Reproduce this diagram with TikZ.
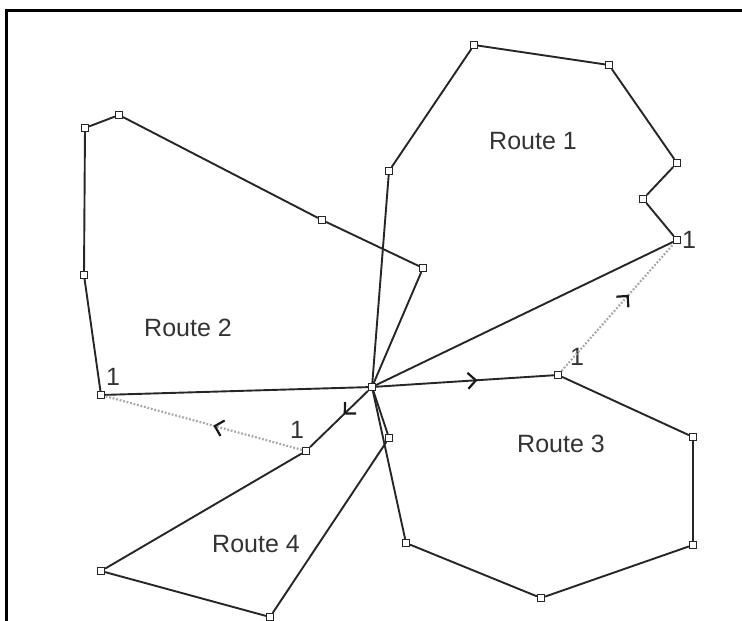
\documentclass[tikz,border=0pt]{standalone}
\usepackage{fontspec}
\setmainfont{Liberation Sans}
\usetikzlibrary{arrows.meta,decorations.markings}
\begin{document}
\begin{tikzpicture}[x=1pt,y=-1pt] % маршруты из депо
\tikzstyle{cust} = [draw=black!85, rectangle, fill=white, minimum size=7pt, inner sep=0pt, line width=1.1pt] % customer node style
\tikzstyle{route} = [draw=black!85, line width=1.9pt] % route edge style
\tikzstyle{link} = [draw=black!35, line width=2.2pt, dash pattern=on 1.8pt off 1.8pt] % dotted link between routes
\tikzstyle{tag} = [font=\fontsize{25}{28}\selectfont, text=black!80, inner sep=0pt]
\tikzset{midarrow/.style={postaction={decorate}, decoration={markings, mark=at position #1 with {\arrow[black!90]{Straight Barb[length=8pt,width=16pt,line width=2.2pt]}}}}}
\useasboundingbox (0,0) rectangle (742,621);
\draw[line width=3pt] (742,10.5) -- (6.5,10.5) -- (6.5,621); % рамка
% депо
\node[cust] (D) at (372,387) {};
% route 1
\node[cust] (a1) at (389,171) {};
\node[cust] (a2) at (474,45) {};
\node[cust] (a3) at (609,65) {};
\node[cust] (a4) at (677,163) {};
\node[cust] (a5) at (643,199) {};
\node[cust] (a6) at (677,240) {};
% route 2
\node[cust] (b1) at (101,395) {};
\node[cust] (b2) at (84,275) {};
\node[cust] (b3) at (85,128) {};
\node[cust] (b4) at (119,115) {};
\node[cust] (b5) at (322,220) {};
\node[cust] (b6) at (423,268) {};
% route 3
\node[cust] (c1) at (558,375) {};
\node[cust] (c2) at (693,437) {};
\node[cust] (c3) at (693,545) {};
\node[cust] (c4) at (541,598) {};
\node[cust] (c5) at (406,543) {};
% route 4
\node[cust] (d1) at (306,451) {};
\node[cust] (d2) at (101,571) {};
\node[cust] (d3) at (270,617) {};
\node[cust] (d4) at (389,438) {};
% подписи
\node[tag] (r1) at (533,141) {Route 1};
\node[tag] (r2) at (188,328) {Route 2};
\node[tag] (r3) at (561,444) {Route 3};
\node[tag] (r4) at (256,544) {Route 4};
\node[tag] (n1) at (689,240) {1};
\node[tag] (n2) at (113,377) {1};
\node[tag] (n3) at (577,357) {1};
\node[tag] (n4) at (297,430) {1};
% рёбра
\draw[route] (D) -- (a1) -- (a2) -- (a3) -- (a4) -- (a5) -- (a6) -- (D);
\draw[route] (D) -- (b1) -- (b2) -- (b3) -- (b4) -- (b5) -- (b6) -- (D);
\draw[route, midarrow=0.57] (D) -- (c1);
\draw[route] (c1) -- (c2) -- (c3) -- (c4) -- (c5) -- (D);
\draw[route, midarrow=0.42] (D) -- (d1);
\draw[route] (d1) -- (d2) -- (d3) -- (d4) -- (D);
\draw[link, midarrow=0.45] (d1) -- (b1);
\draw[link, midarrow=0.6] (c1) -- (a6);
\end{tikzpicture}
\end{document}
